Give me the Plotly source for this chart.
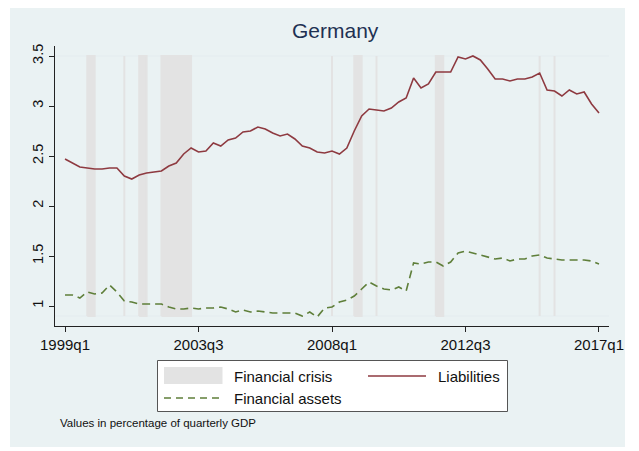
import plotly.graph_objects as go

# Quarterly data, 1999q1 .. 2017q1 (index 0 .. 72), share of quarterly GDP
quarters = list(range(73))
tick_vals = [0, 18, 36, 54, 72]
tick_text = ["1999q1", "2003q3", "2008q1", "2012q3", "2017q1"]

liabilities = [
    2.47, 2.43, 2.39, 2.38, 2.37, 2.37, 2.38, 2.38, 2.30, 2.27,
    2.31, 2.33, 2.34, 2.35, 2.40, 2.43, 2.52, 2.58, 2.54, 2.55,
    2.63, 2.60, 2.66, 2.68, 2.74, 2.75, 2.79, 2.77, 2.73, 2.70,
    2.72, 2.67, 2.60, 2.58, 2.54, 2.53, 2.55, 2.52, 2.58, 2.75,
    2.90, 2.97, 2.96, 2.95, 2.98, 3.04, 3.08, 3.28, 3.18, 3.22,
    3.34, 3.34, 3.34, 3.49, 3.47, 3.50, 3.46, 3.37, 3.27, 3.27,
    3.25, 3.27, 3.27, 3.29, 3.33, 3.16, 3.15, 3.10, 3.16, 3.12,
    3.14, 3.02, 2.93,
]

assets = [
    1.11, 1.11, 1.08, 1.14, 1.12, 1.13, 1.21, 1.14, 1.05, 1.04,
    1.02, 1.02, 1.02, 1.02, 0.99, 0.97, 0.97, 0.98, 0.97, 0.98,
    0.98, 0.99, 0.97, 0.94, 0.96, 0.94, 0.95, 0.94, 0.93, 0.93,
    0.93, 0.93, 0.90, 0.94, 0.89, 0.98, 0.99, 1.04, 1.06, 1.10,
    1.17, 1.24, 1.20, 1.17, 1.16, 1.19, 1.15, 1.43, 1.42, 1.44,
    1.44, 1.40, 1.44, 1.53, 1.55, 1.53, 1.51, 1.49, 1.47, 1.48,
    1.45, 1.47, 1.47, 1.50, 1.51, 1.48, 1.47, 1.46, 1.46, 1.46,
    1.46, 1.45, 1.42,
]

# crisis periods (start quarter, end quarter)
crisis_start = [3, 8, 10, 13, 36, 39, 42, 50, 64, 66]
crisis_end = [4, 8, 11, 17, 36, 40, 42, 51, 64, 66]
crisis_low, crisis_high = 0.9, 3.5

BG = "#EAF2F3"
RED = "#8E3A40"
GREEN = "#5F7F3A"
GRAY = "#E3E3E3"
FONT = "Liberation Sans, Arial, sans-serif"

# page has an 8px body margin, so the figure is shrunk and everything shifted
OFF = 8
W, H = 639 - OFF, 451 - OFF
# plot area in page pixels
L, R, T, B = 55, 609, 46, 326


def px(x):
    return (x - L) / (R - L)


def py(y):
    return (B - y) / (B - T)


cx, cy = [], []
for s, e in zip(crisis_start, crisis_end):
    cx += [s, s, e, e, s, None]
    cy += [crisis_low, crisis_high, crisis_high, crisis_low, crisis_low, None]

fig = go.Figure()
fig.add_trace(go.Scatter(
    x=cx, y=cy, mode="lines", fill="toself", fillcolor=GRAY,
    line=dict(color=GRAY, width=2), name="Financial crisis",
    hoverinfo="skip", showlegend=False
))
fig.add_trace(go.Scatter(
    x=quarters, y=liabilities, mode="lines", name="Liabilities",
    line=dict(color=RED, width=1.6), showlegend=False
))
fig.add_trace(go.Scatter(
    x=quarters, y=assets, mode="lines", name="Financial assets",
    line=dict(color=GREEN, width=1.6, dash="8px,5px"), showlegend=False
))

shapes = [
    # graph region background
    dict(type="rect", xref="paper", yref="paper", x0=px(10), x1=px(625),
         y0=py(447), y1=py(3), fillcolor=BG, line=dict(width=0), layer="below"),
    # faint band limits
    dict(type="line", xref="paper", yref="y", x0=0, x1=1, y0=crisis_low, y1=crisis_low,
         line=dict(color="#E4ECEF", width=1.2), layer="below"),
    dict(type="line", xref="paper", yref="y", x0=0, x1=1, y0=crisis_high, y1=crisis_high,
         line=dict(color="#E4ECEF", width=1.2), layer="below"),
    # legend box
    dict(type="rect", xref="paper", yref="paper", x0=px(157.5), x1=px(507.5),
         y0=py(411.5), y1=py(360.5), fillcolor="white", line=dict(color="#555555", width=1)),
    dict(type="rect", xref="paper", yref="paper", x0=px(164), x1=px(222.5),
         y0=py(384), y1=py(367), fillcolor=GRAY, line=dict(width=0)),
    dict(type="line", xref="paper", yref="paper", x0=px(368), x1=px(426),
         y0=py(376), y1=py(376), line=dict(color=RED, width=1.6)),
    dict(type="line", xref="paper", yref="paper", x0=px(164), x1=px(222.5),
         y0=py(398), y1=py(398), line=dict(color=GREEN, width=1.6, dash="7px,5px")),
]

annotations = [
    dict(text="Germany", xref="paper", yref="paper", x=px(335), y=py(31),
         xanchor="center", yanchor="middle", showarrow=False,
         font=dict(family=FONT, size=21, color="#1E3152")),
    dict(text="Financial crisis", xref="paper", yref="paper", x=px(232), y=py(376),
         xanchor="left", yanchor="middle", showarrow=False,
         font=dict(family=FONT, size=15, color="#111111")),
    dict(text="Liabilities", xref="paper", yref="paper", x=px(435.5), y=py(376),
         xanchor="left", yanchor="middle", showarrow=False,
         font=dict(family=FONT, size=15, color="#111111")),
    dict(text="Financial assets", xref="paper", yref="paper", x=px(232), y=py(398),
         xanchor="left", yanchor="middle", showarrow=False,
         font=dict(family=FONT, size=15, color="#111111")),
    dict(text="Values in percentage of quarterly GDP", xref="paper", yref="paper",
         x=px(58), y=py(423), xanchor="left", yanchor="middle", showarrow=False,
         font=dict(family=FONT, size=11.5, color="#111111")),
]

fig.update_layout(
    width=W, height=H,
    margin=dict(l=L - OFF, r=W - (R - OFF), t=T - OFF, b=H - (B - OFF)),
    paper_bgcolor="white",
    plot_bgcolor="white",
    showlegend=False,
    shapes=shapes,
    annotations=annotations,
    xaxis=dict(
        range=[-1.35, 73.35], tickvals=tick_vals, ticktext=tick_text,
        showgrid=False, zeroline=False, showline=True, linecolor="#222222",
        linewidth=1, ticks="outside", ticklen=5, tickcolor="#222222",
        tickfont=dict(family=FONT, size=15, color="#111111"),
    ),
    yaxis=dict(
        range=[0.8, 3.6], tickvals=[1, 1.5, 2, 2.5, 3, 3.5],
        ticktext=["1", "1.5", "2", "2.5", "3", "3.5"], tickangle=-90,
        showgrid=False, zeroline=False, showline=True, linecolor="#222222",
        linewidth=1, ticks="outside", ticklen=5, tickcolor="#222222",
        tickfont=dict(family=FONT, size=14.5, color="#111111"),
    ),
)

fig.write_html("out.html")
